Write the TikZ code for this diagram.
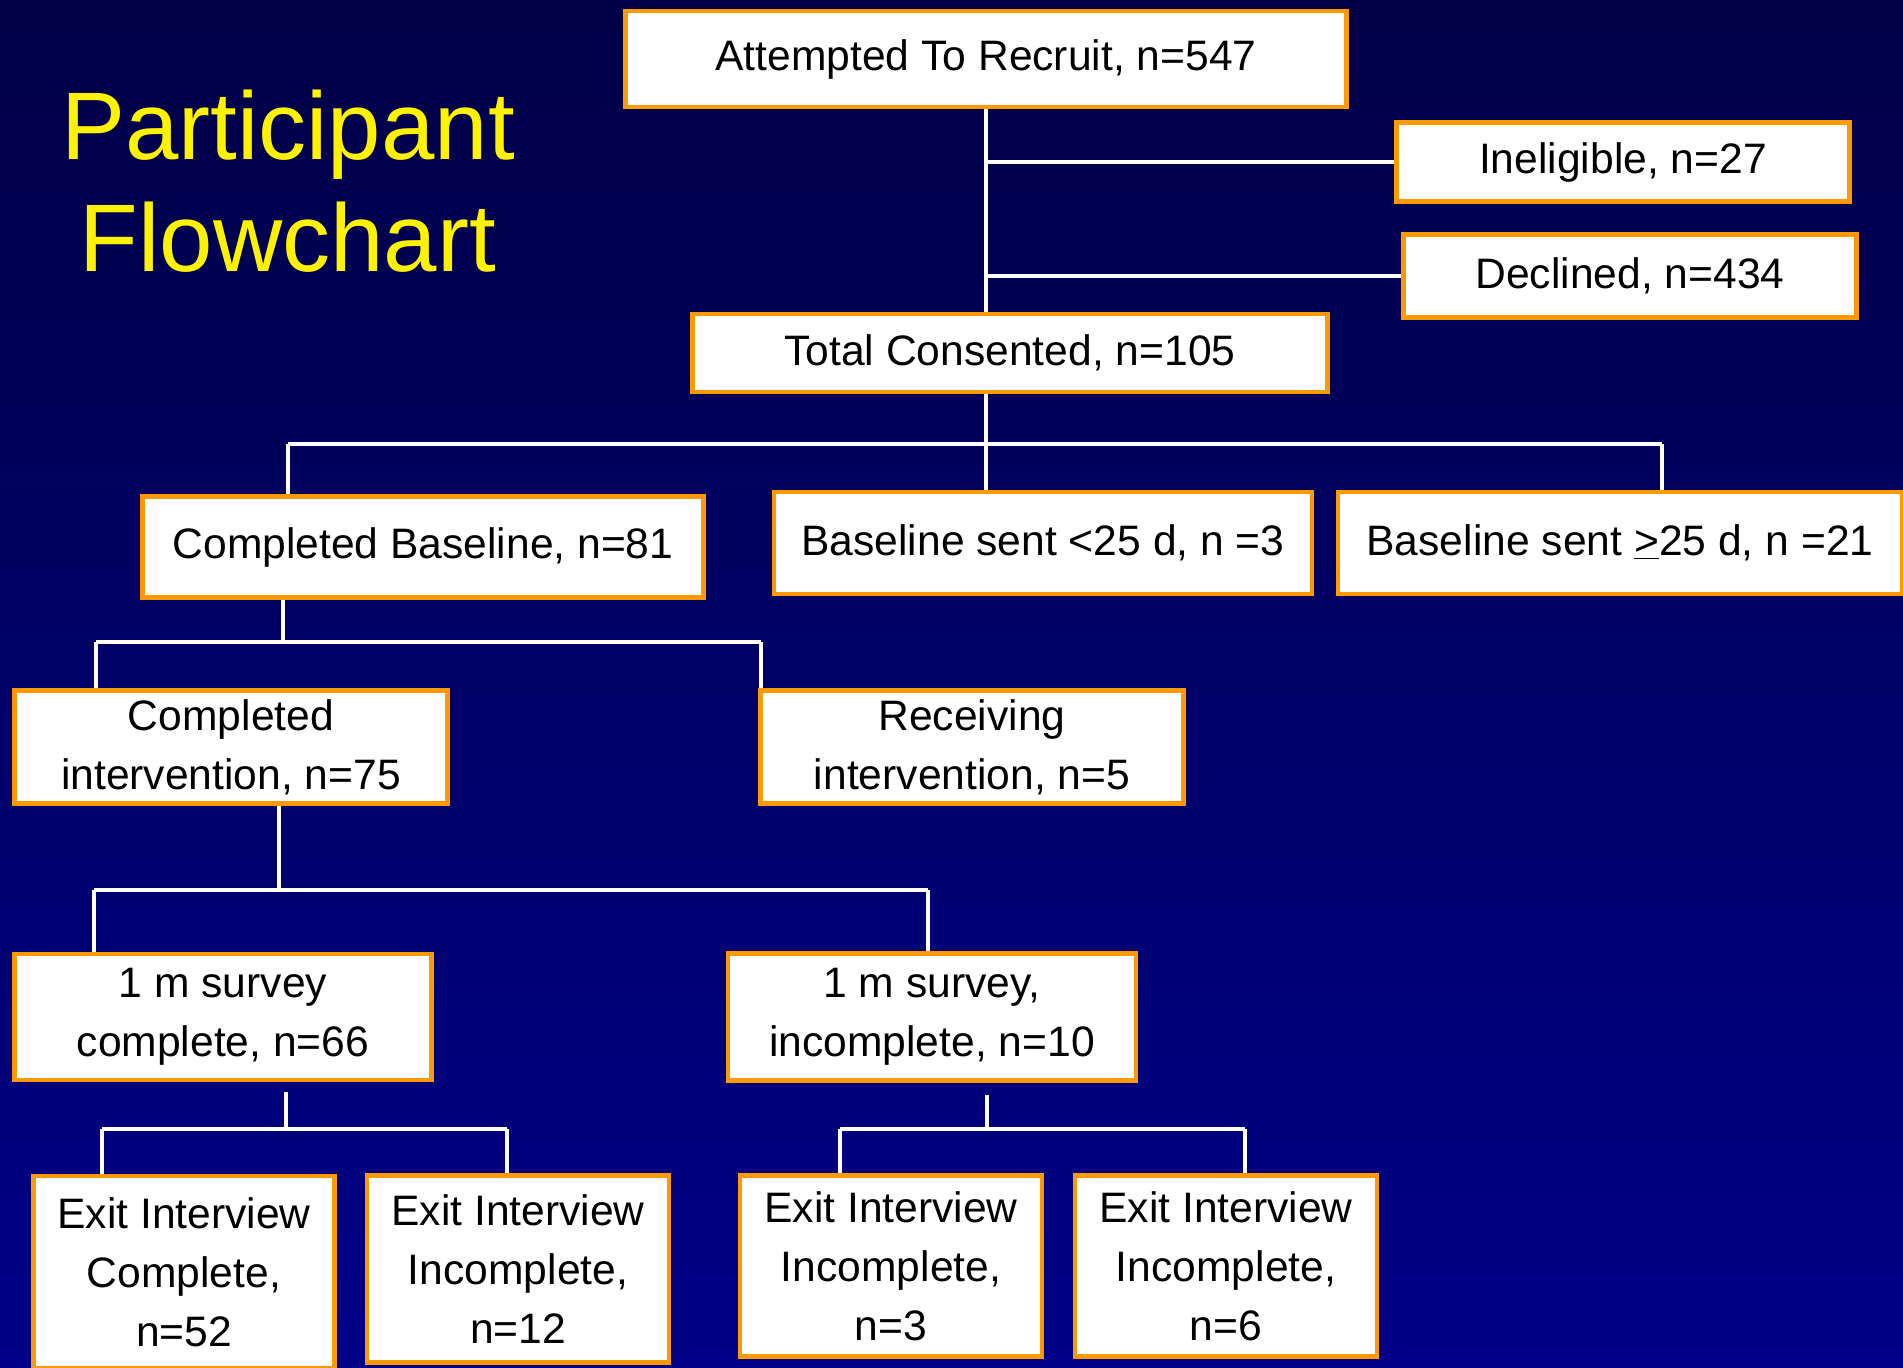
\documentclass[tikz,border=0pt]{standalone}
\usepackage{fontspec}
\setmainfont{Liberation Sans}
\definecolor{bgtop}{RGB}{0,0,70}
\definecolor{bgbot}{RGB}{0,0,136}
\definecolor{boxorange}{RGB}{255,153,0}
\begin{document}
\begin{tikzpicture}[x=0.5pt, y=-0.5pt,
	box/.style={draw=boxorange, line width=2.4pt, fill=white, inner sep=0pt, align=center, font=\fontsize{21.3}{29.5}\selectfont},
	link/.style={draw=white, line width=2pt}]
		\fill[top color=bgtop, bottom color=bgbot] (0,0) rectangle (1903,1367);
		\useasboundingbox (0,0) rectangle (1903,1367);

		\node[text=yellow, align=center, font=\fontsize{48}{56}\selectfont] (title) at (288,181) {Participant\\Flowchart};

		\node[box, minimum width=360.5pt, minimum height=48pt] (att) at (986,59) {Attempted To Recruit, n=547};
		\node[box, minimum width=226.5pt, minimum height=39.5pt] (inel) at (1623,162) {Ineligible, n=27};
		\node[box, minimum width=226.5pt, minimum height=41.5pt] (decl) at (1630,276) {Declined, n=434};
		\node[box, minimum width=317.5pt, minimum height=39pt] (tot) at (1010,353) {Total Consented, n=105};

		\node[box, minimum width=280.5pt, minimum height=50.5pt] (cbl) at (423,547) {Completed Baseline, n=81};
		\node[box, minimum width=269pt, minimum height=51pt] (bl25) at (1043,543) {Baseline sent <25 d, n =3};
		\node[box, minimum width=282pt, minimum height=51pt] (bg25) at (1620,543) {Baseline sent \underline{>}25 d, n =21};

		\node[box, minimum width=216.5pt, minimum height=56.5pt] (ci) at (231,747) {Completed\\intervention, n=75};
		\node[box, minimum width=211.5pt, minimum height=56.5pt] (ri) at (972,747) {Receiving\\intervention, n=5};

		\node[box, minimum width=208.5pt, minimum height=63pt] (s1) at (223,1017) {1 m survey\\complete, n=66};
		\node[box, minimum width=204pt, minimum height=63.5pt] (s2) at (932,1017) {1 m survey,\\incomplete, n=10};

		\node[box, minimum width=150.5pt, minimum height=96pt] (e1) at (184,1272) {Exit Interview\\Complete,\\n=52};
		\node[box, minimum width=151pt, minimum height=93.5pt] (e2) at (518,1269) {Exit Interview\\Incomplete,\\n=12};
		\node[box, minimum width=151pt, minimum height=90.5pt] (e3) at (891,1266) {Exit Interview\\Incomplete,\\n=3};
		\node[box, minimum width=151pt, minimum height=90.5pt] (e4) at (1226,1266) {Exit Interview\\Incomplete,\\n=6};

		\draw[link] (att.south) -- (att.south |- tot.north);
		\draw[link] (att.south |- inel.west) -- (inel.west);
		\draw[link] (att.south |- decl.west) -- (decl.west);

		\coordinate (bar1l) at (288,444);
		\coordinate (bar1r) at (1662,444);
		\draw[link] (bar1l) -- (bar1r);
		\draw[link] (att.south |- tot.south) -- (att.south |- bl25.north);
		\draw[link] (bar1l) -- (bar1l |- cbl.north);
		\draw[link] (bar1r) -- (bar1r |- bg25.north);

		\coordinate (bar2l) at (96,642);
		\coordinate (bar2r) at (761,642);
		\coordinate (bar2m) at (283,642);
		\draw[link] (bar2m |- cbl.south) -- (bar2m);
		\draw[link] (bar2l) -- (bar2r);
		\draw[link] (bar2l) -- (bar2l |- ci.north);
		\draw[link] (bar2r) -- (bar2r |- ri.north);

		\coordinate (bar3l) at (94,890);
		\coordinate (bar3r) at (928,890);
		\coordinate (bar3m) at (279,890);
		\draw[link] (bar3m |- ci.south) -- (bar3m);
		\draw[link] (bar3l) -- (bar3r);
		\draw[link] (bar3l) -- (bar3l |- s1.north);
		\draw[link] (bar3r) -- (bar3r |- s2.north);

		\coordinate (bar4l) at (102,1129);
		\coordinate (bar4r) at (507,1129);
		\coordinate (bar4m) at (286,1129);
		\draw[link, shorten <=5pt] (bar4m |- s1.south) -- (bar4m);
		\draw[link] (bar4l) -- (bar4r);
		\draw[link] (bar4l) -- (bar4l |- e1.north);
		\draw[link] (bar4r) -- (bar4r |- e2.north);

		\coordinate (bar5l) at (840,1129);
		\coordinate (bar5r) at (1245,1129);
		\coordinate (bar5m) at (987,1129);
		\draw[link, shorten <=6pt] (bar5m |- s2.south) -- (bar5m);
		\draw[link] (bar5l) -- (bar5r);
		\draw[link] (bar5l) -- (bar5l |- e3.north);
		\draw[link] (bar5r) -- (bar5r |- e4.north);
	\end{tikzpicture}
\end{document}
